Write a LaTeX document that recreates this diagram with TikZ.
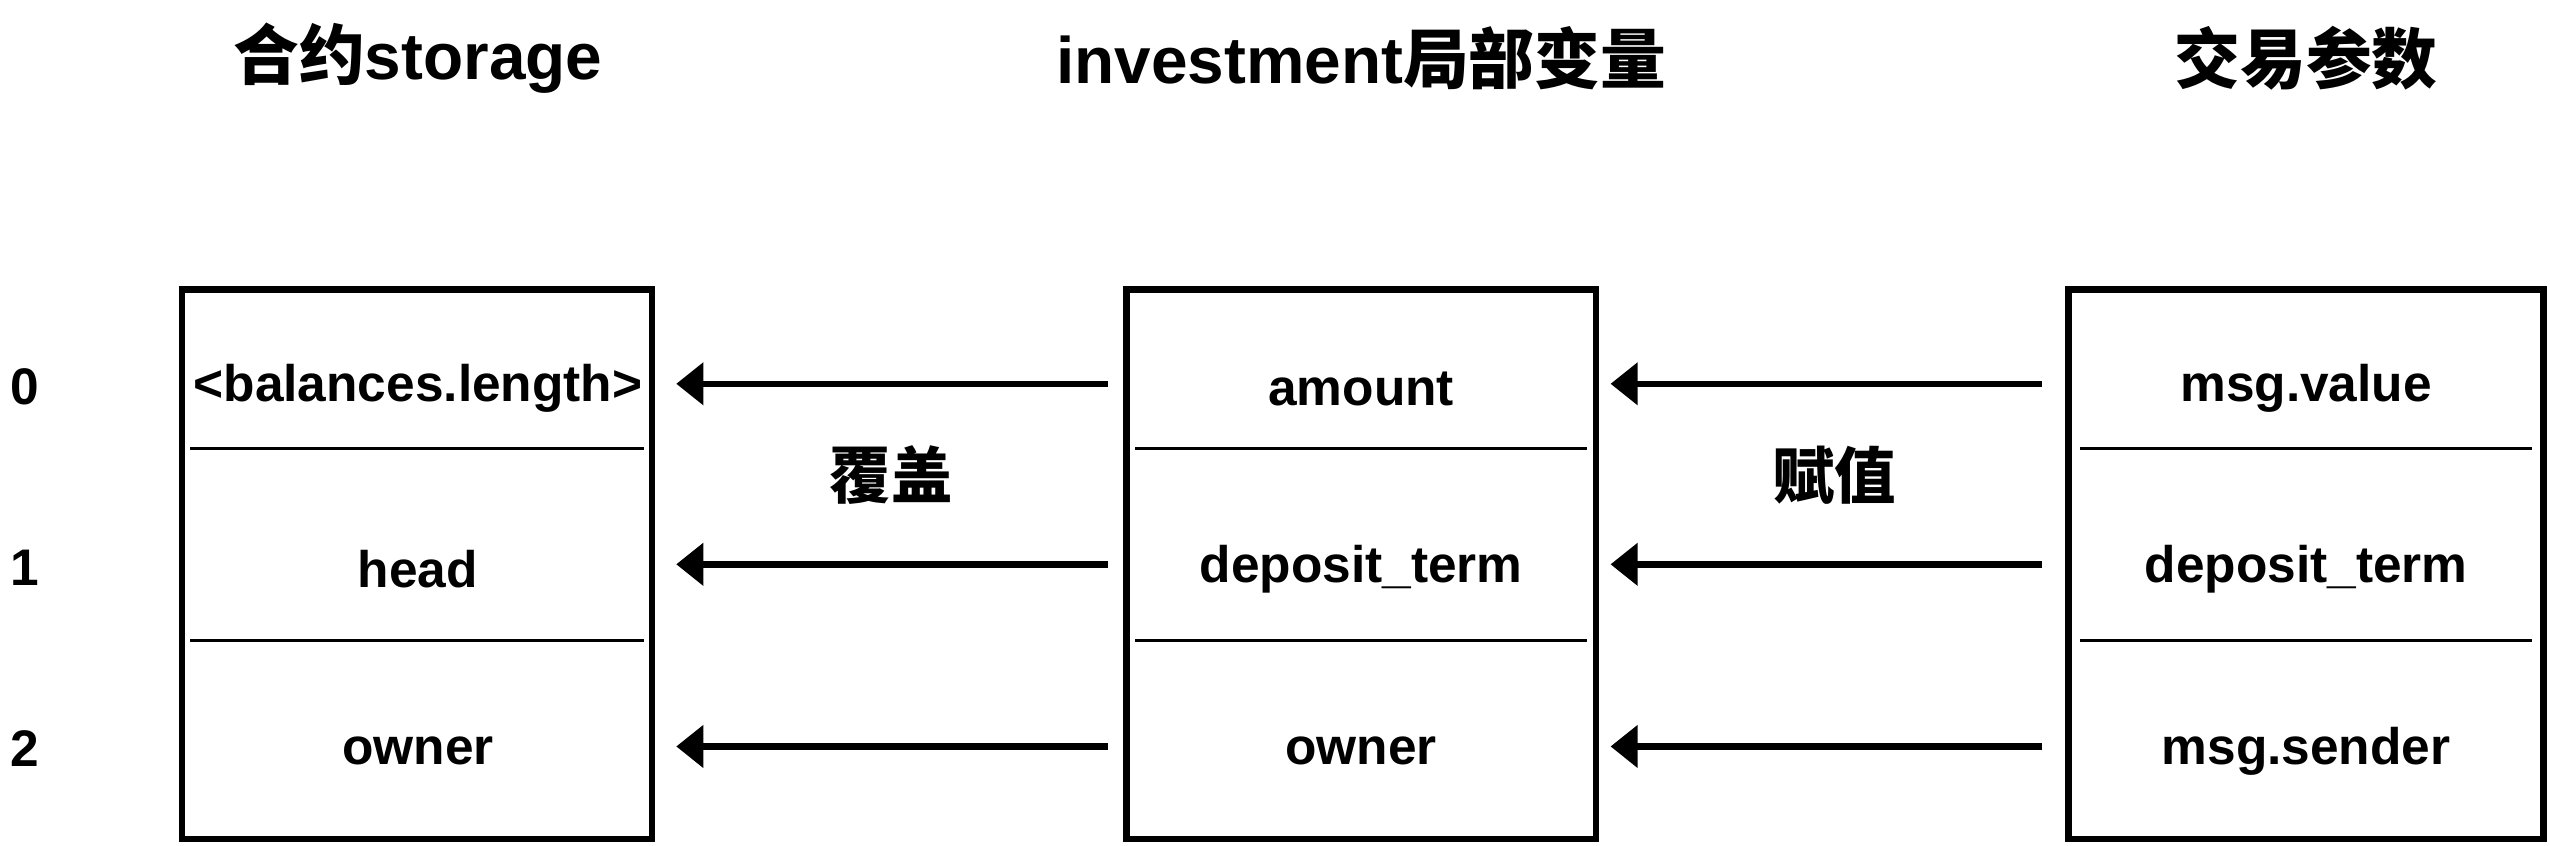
\documentclass[tikz,border=0pt]{standalone}
\usepackage{fontspec}
\usetikzlibrary{arrows.meta}
\setmainfont{Liberation Sans}
\newfontfamily\cjk{Noto Sans CJK SC}

\tikzset{
	frame/.style={draw, line width=2.3pt, minimum width=5.78cm, minimum height=6.76cm, inner sep=0pt},
	cell/.style={minimum width=5.58cm, minimum height=2.2cm, inner sep=0pt, font=\fontsize{18}{22}\selectfont\bfseries},
	title/.style={font=\fontsize{23}{27}\selectfont\bfseries},
	divider/.style={line width=1.1pt},
	arr/.style={line width=2.3pt, -{Triangle[length=9.5pt,width=14.5pt]}}
}

\begin{document}
\begin{tikzpicture}[x=0.02cm, y=-0.02cm]
	\useasboundingbox (0,0) rectangle (1568,520);
	% titles
	\node[title] (tS) at (257,36) {{\cjk 合约}storage};
	\node[title] (tI) at (837,36) {investment{\cjk 局部变量}};
	\node[title] (tT) at (1418,36) {{\cjk 交易参数}};
	% boxes
	\node[frame] (S) at (256.5,347) {};
	\node[frame] (I) at (837,347) {};
	\node[frame, minimum width=5.84cm] (T) at (1418,347) {};
	\draw[divider] (117,276)--(396,276);
	\draw[divider] (117,394)--(396,394);
	\draw[divider] (698,276)--(976,276);
	\draw[divider] (698,394)--(976,394);
	\draw[divider] (1279,276)--(1557,276);
	\draw[divider] (1279,394)--(1557,394);
	% slot numbers
	\node[cell, minimum width=0pt] (n0) at (15,238) {0};
	\node[cell, minimum width=0pt] (n1) at (15,349) {1};
	\node[cell, minimum width=0pt] (n2) at (15,460) {2};
	% cells
	\node[cell] (s0) at (257,239) {<balances.length>};
	\node[cell] (s1) at (257,350) {head};
	\node[cell] (i0) at (837,239) {amount};
	\node[cell] (s2) at (257,462) {owner};
	\node[cell] (i1) at (837,350) {deposit\_term};
	\node[cell] (i2) at (837,462) {owner};
	\node[cell] (t0) at (1418,239) {msg.value};
	\node[cell] (t1) at (1418,350) {deposit\_term};
	\node[cell] (t2) at (1418,462) {msg.sender};
	% arrows
	\draw[arr, shorten <=0.32cm, shorten >=0.38cm] ([yshift=0.06cm]i0.west)--([yshift=0.06cm]s0.east);
	\draw[arr, shorten <=0.32cm, shorten >=0.38cm] ([yshift=0.06cm]i1.west)--([yshift=0.06cm]s1.east);
	\draw[arr, shorten <=0.32cm, shorten >=0.38cm] ([yshift=0.06cm]i2.west)--([yshift=0.06cm]s2.east);
	\draw[arr, shorten <=0.45cm, shorten >=0.27cm] ([yshift=0.06cm]t0.west)--([yshift=0.06cm]i0.east);
	\draw[arr, shorten <=0.45cm, shorten >=0.27cm] ([yshift=0.06cm]t1.west)--([yshift=0.06cm]i1.east);
	\draw[arr, shorten <=0.45cm, shorten >=0.27cm] ([yshift=0.06cm]t2.west)--([yshift=0.06cm]i2.east);
	\node[font=\fontsize{21.5}{25}\selectfont\bfseries\cjk] (cover) at (548,292) {覆盖};
	\node[font=\fontsize{21.5}{25}\selectfont\bfseries\cjk] (assign) at (1128,292) {赋值};
\end{tikzpicture}
\end{document}
